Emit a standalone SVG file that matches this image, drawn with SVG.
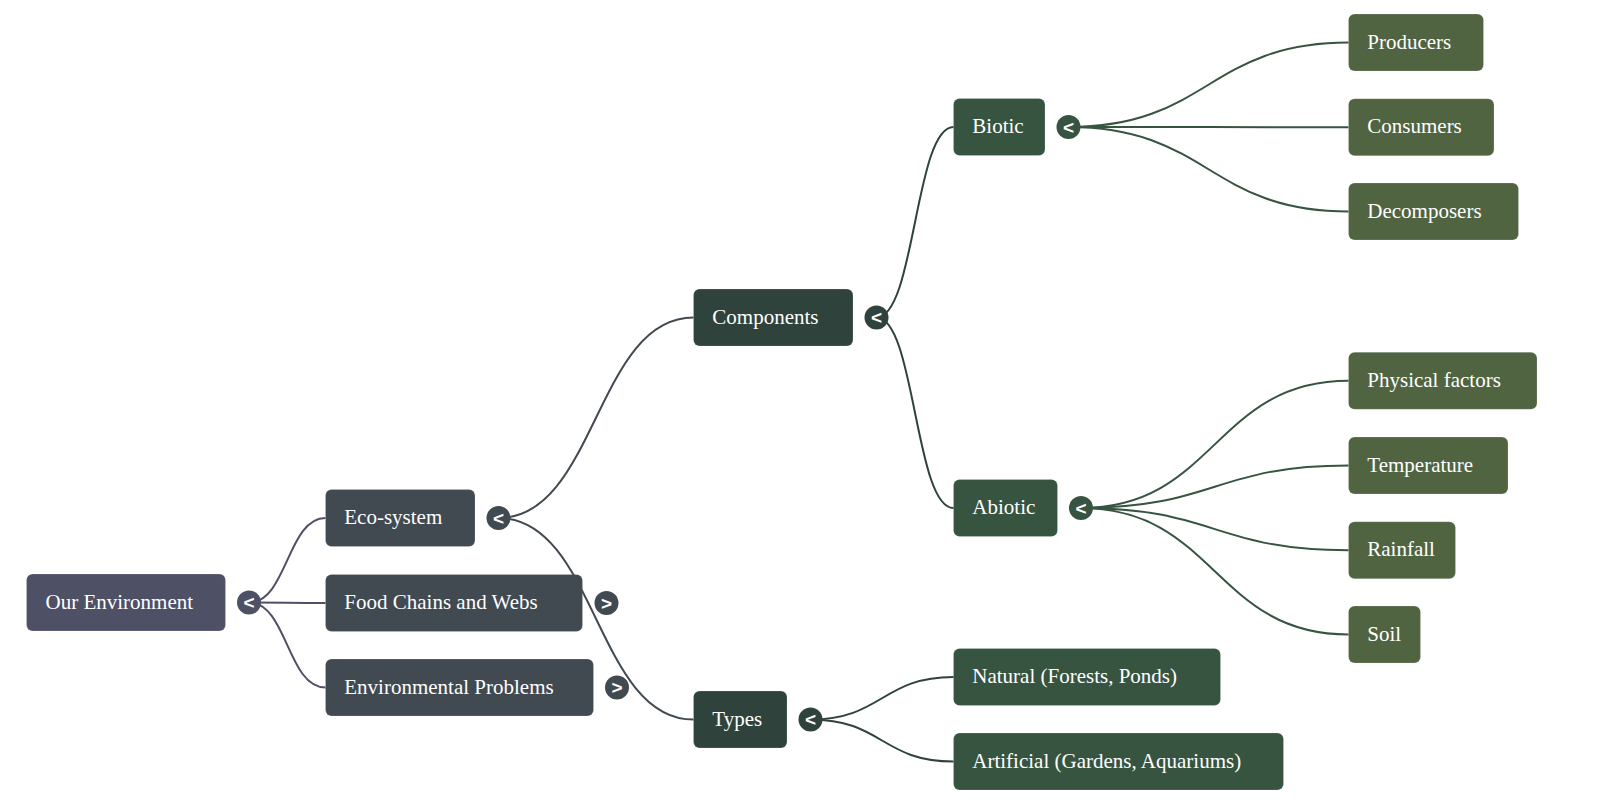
<svg xmlns="http://www.w3.org/2000/svg" width="1600" height="804" viewBox="0 0 1600 804">
<style>
  .box { stroke: rgba(255,255,255,0.18); stroke-width: 1; }
  .lbl { font-family: "Liberation Serif", "Times New Roman", serif; font-size: 21px; fill: #ffffff; }
  .c0 { fill: #4e5066; }
  .c1 { fill: #414951; }
  .c2 { fill: #2f433c; }
  .c3 { fill: #375441; }
  .c4 { fill: #506442; }
  .ln { fill: none; stroke-width: 2; }
  .l0 { stroke: #4e5066; }
  .l1 { stroke: #414951; }
  .l2 { stroke: #2f433c; }
  .l3 { stroke: #375441; }
  .tg text { font-family: "Liberation Sans", Arial, sans-serif; font-size: 19px; font-weight: bold; fill: #ffffff; text-anchor: middle; }
</style>
<rect width="1600" height="804" fill="#ffffff"/>

<g id="node-root"><rect class="box c0" x="26.5" y="574" width="199" height="57" rx="6"/><text class="lbl" x="45.5" y="609">Our Environment</text></g>
<g id="node-eco"><rect class="box c1" x="325.5" y="489.5" width="149.5" height="57" rx="6"/><text class="lbl" x="344.3" y="524">Eco-system</text></g>
<g id="node-food"><rect class="box c1" x="325.5" y="574.5" width="257" height="57" rx="6"/><text class="lbl" x="344.3" y="609">Food Chains and Webs</text></g>
<g id="node-env"><rect class="box c1" x="325.5" y="659" width="268" height="57" rx="6"/><text class="lbl" x="344.3" y="693.5">Environmental Problems</text></g>
<g id="node-components"><rect class="box c2" x="693.5" y="289" width="159.5" height="57" rx="6"/><text class="lbl" x="712.3" y="323.5">Components</text></g>
<g id="node-types"><rect class="box c2" x="693.5" y="691" width="93.5" height="57" rx="6"/><text class="lbl" x="712.3" y="725.5">Types</text></g>
<g id="node-biotic"><rect class="box c3" x="953.5" y="98.5" width="91.5" height="57" rx="6"/><text class="lbl" x="972.3" y="133">Biotic</text></g>
<g id="node-abiotic"><rect class="box c3" x="953.5" y="479.5" width="104" height="57" rx="6"/><text class="lbl" x="972.3" y="514">Abiotic</text></g>
<g id="node-natural"><rect class="box c3" x="953.5" y="648.5" width="267" height="57" rx="6"/><text class="lbl" x="972.3" y="683">Natural (Forests, Ponds)</text></g>
<g id="node-artificial"><rect class="box c3" x="953.5" y="733" width="330" height="57" rx="6"/><text class="lbl" x="972.3" y="767.5">Artificial (Gardens, Aquariums)</text></g>
<g id="node-producers"><rect class="box c4" x="1348.5" y="14" width="135" height="57" rx="6"/><text class="lbl" x="1367.3" y="48.5">Producers</text></g>
<g id="node-consumers"><rect class="box c4" x="1348.5" y="98.7" width="145.5" height="57" rx="6"/><text class="lbl" x="1367.3" y="133.2">Consumers</text></g>
<g id="node-decomposers"><rect class="box c4" x="1348.5" y="183" width="170" height="57" rx="6"/><text class="lbl" x="1367.3" y="217.5">Decomposers</text></g>
<g id="node-physical"><rect class="box c4" x="1348.5" y="352.3" width="188.5" height="57" rx="6"/><text class="lbl" x="1367.3" y="386.8">Physical factors</text></g>
<g id="node-temperature"><rect class="box c4" x="1348.5" y="437" width="159.5" height="57" rx="6"/><text class="lbl" x="1367.3" y="471.5">Temperature</text></g>
<g id="node-rainfall"><rect class="box c4" x="1348.5" y="521.7" width="107" height="57" rx="6"/><text class="lbl" x="1367.3" y="556.2">Rainfall</text></g>
<g id="node-soil"><rect class="box c4" x="1348.5" y="606" width="72" height="57" rx="6"/><text class="lbl" x="1367.3" y="640.5">Soil</text></g>

<g id="connectors">
  <path class="ln l0" d="M249 602.5 C287.3 602.5 287.3 518 325.5 518"/>
  <path class="ln l0" d="M249 602.5 C287.3 602.5 287.3 603 325.5 603"/>
  <path class="ln l0" d="M249 602.5 C287.3 602.5 287.3 687.5 325.5 687.5"/>
  <path class="ln l1" d="M498.5 518 C596 518 596 317.5 693.5 317.5"/>
  <path class="ln l1" d="M498.5 518 C596 518 596 719.5 693.5 719.5"/>
  <path class="ln l2" d="M876.5 317.5 C915 317.5 915 127 953.5 127"/>
  <path class="ln l2" d="M876.5 317.5 C915 317.5 915 508 953.5 508"/>
  <path class="ln l2" d="M810.5 719.5 C882 719.5 882 677 953.5 677"/>
  <path class="ln l2" d="M810.5 719.5 C882 719.5 882 761.5 953.5 761.5"/>
  <path class="ln l3" d="M1068.5 127 C1208.5 127 1208.5 42.5 1348.5 42.5"/>
  <path class="ln l3" d="M1068.5 127 C1208.5 127 1208.5 127.2 1348.5 127.2"/>
  <path class="ln l3" d="M1068.5 127 C1208.5 127 1208.5 211.5 1348.5 211.5"/>
  <path class="ln l3" d="M1081 508 C1214.8 508 1214.8 380.8 1348.5 380.8"/>
  <path class="ln l3" d="M1081 508 C1214.8 508 1214.8 465.5 1348.5 465.5"/>
  <path class="ln l3" d="M1081 508 C1214.8 508 1214.8 550.2 1348.5 550.2"/>
  <path class="ln l3" d="M1081 508 C1214.8 508 1214.8 634.5 1348.5 634.5"/>
</g>

<g id="toggles" class="tg">
  <g id="toggle-root"><circle class="c0" cx="249" cy="602.5" r="12"/><text x="249" y="609">&lt;</text></g>
  <g id="toggle-eco"><circle class="c1" cx="498.5" cy="518" r="12"/><text x="498.5" y="524.5">&lt;</text></g>
  <g id="toggle-food"><circle class="c1" cx="606.5" cy="603" r="12"/><text x="606.5" y="609.5">&gt;</text></g>
  <g id="toggle-env"><circle class="c1" cx="617" cy="687.5" r="12"/><text x="617" y="694">&gt;</text></g>
  <g id="toggle-components"><circle class="c2" cx="876.5" cy="317.5" r="12"/><text x="876.5" y="324">&lt;</text></g>
  <g id="toggle-types"><circle class="c2" cx="810.5" cy="719.5" r="12"/><text x="810.5" y="726">&lt;</text></g>
  <g id="toggle-biotic"><circle class="c3" cx="1068.5" cy="127" r="12"/><text x="1068.5" y="133.5">&lt;</text></g>
  <g id="toggle-abiotic"><circle class="c3" cx="1081" cy="508" r="12"/><text x="1081" y="514.5">&lt;</text></g>
</g>
</svg>
